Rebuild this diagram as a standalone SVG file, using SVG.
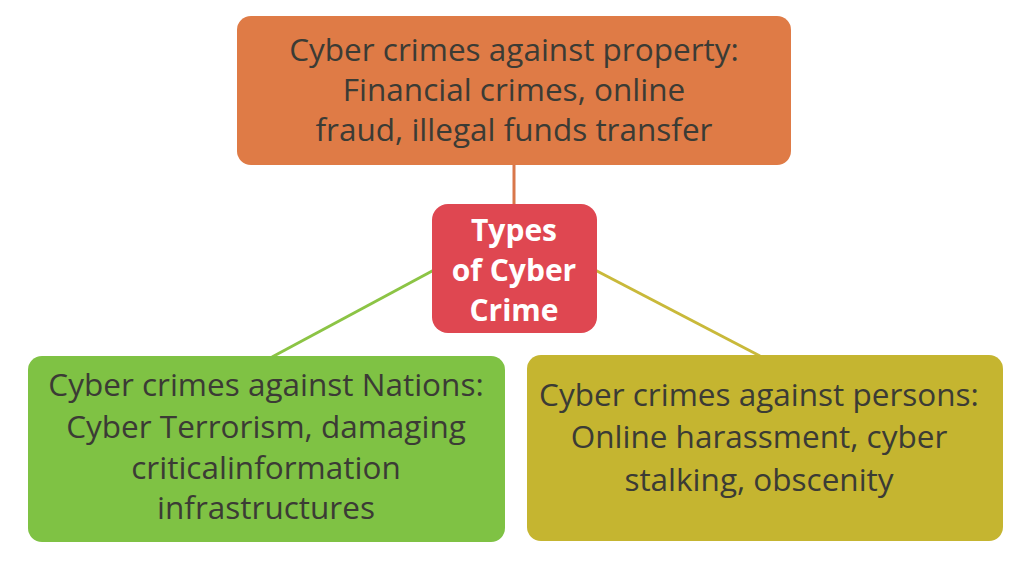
<svg xmlns="http://www.w3.org/2000/svg" width="1024" height="561" viewBox="0 0 1024 561">
<style>
.t{font-family:"Open Sans","Noto Sans","Liberation Sans",sans-serif;font-size:31.5px;fill:#3b3b35;text-anchor:middle}
.c{font-family:"Open Sans","Noto Sans","Liberation Sans",sans-serif;font-size:30px;font-weight:bold;fill:#ffffff;text-anchor:middle}
</style>
<rect width="1024" height="561" fill="#ffffff"/>
<g id="connectors" stroke-width="3" fill="none">
<line x1="514" y1="165" x2="514" y2="205" stroke="#d9774a"/>
<line x1="434" y1="270" x2="272" y2="357" stroke="#8cc445"/>
<line x1="595" y1="270" x2="760" y2="356" stroke="#c9b93a"/>
</g>
<g id="property">
<rect x="237" y="16" width="554" height="149" rx="14" fill="#df7b46"/>
<text class="t" x="514" y="61">Cyber crimes against property:</text>
<text class="t" x="514" y="101">Financial crimes, online</text>
<text class="t" x="514" y="141">fraud, illegal funds transfer</text>
</g>
<g id="center">
<rect x="432" y="204" width="165" height="129" rx="16" fill="#df4751"/>
<text class="c" x="514" y="241">Types</text>
<text class="c" x="514" y="281">of Cyber</text>
<text class="c" x="514" y="321">Crime</text>
</g>
<g id="nations">
<rect x="28" y="356" width="477" height="186" rx="14" fill="#7fc244"/>
<text class="t" x="266" y="396">Cyber crimes against Nations:</text>
<text class="t" x="266" y="438">Cyber Terrorism, damaging</text>
<text class="t" x="266" y="479">criticalinformation</text>
<text class="t" x="266" y="519">infrastructures</text>
</g>
<g id="persons">
<rect x="527" y="355" width="476" height="186" rx="14" fill="#c5b530"/>
<text class="t" x="759" y="406">Cyber crimes against persons:</text>
<text class="t" x="759" y="448">Online harassment, cyber</text>
<text class="t" x="759" y="491">stalking, obscenity</text>
</g>
</svg>
